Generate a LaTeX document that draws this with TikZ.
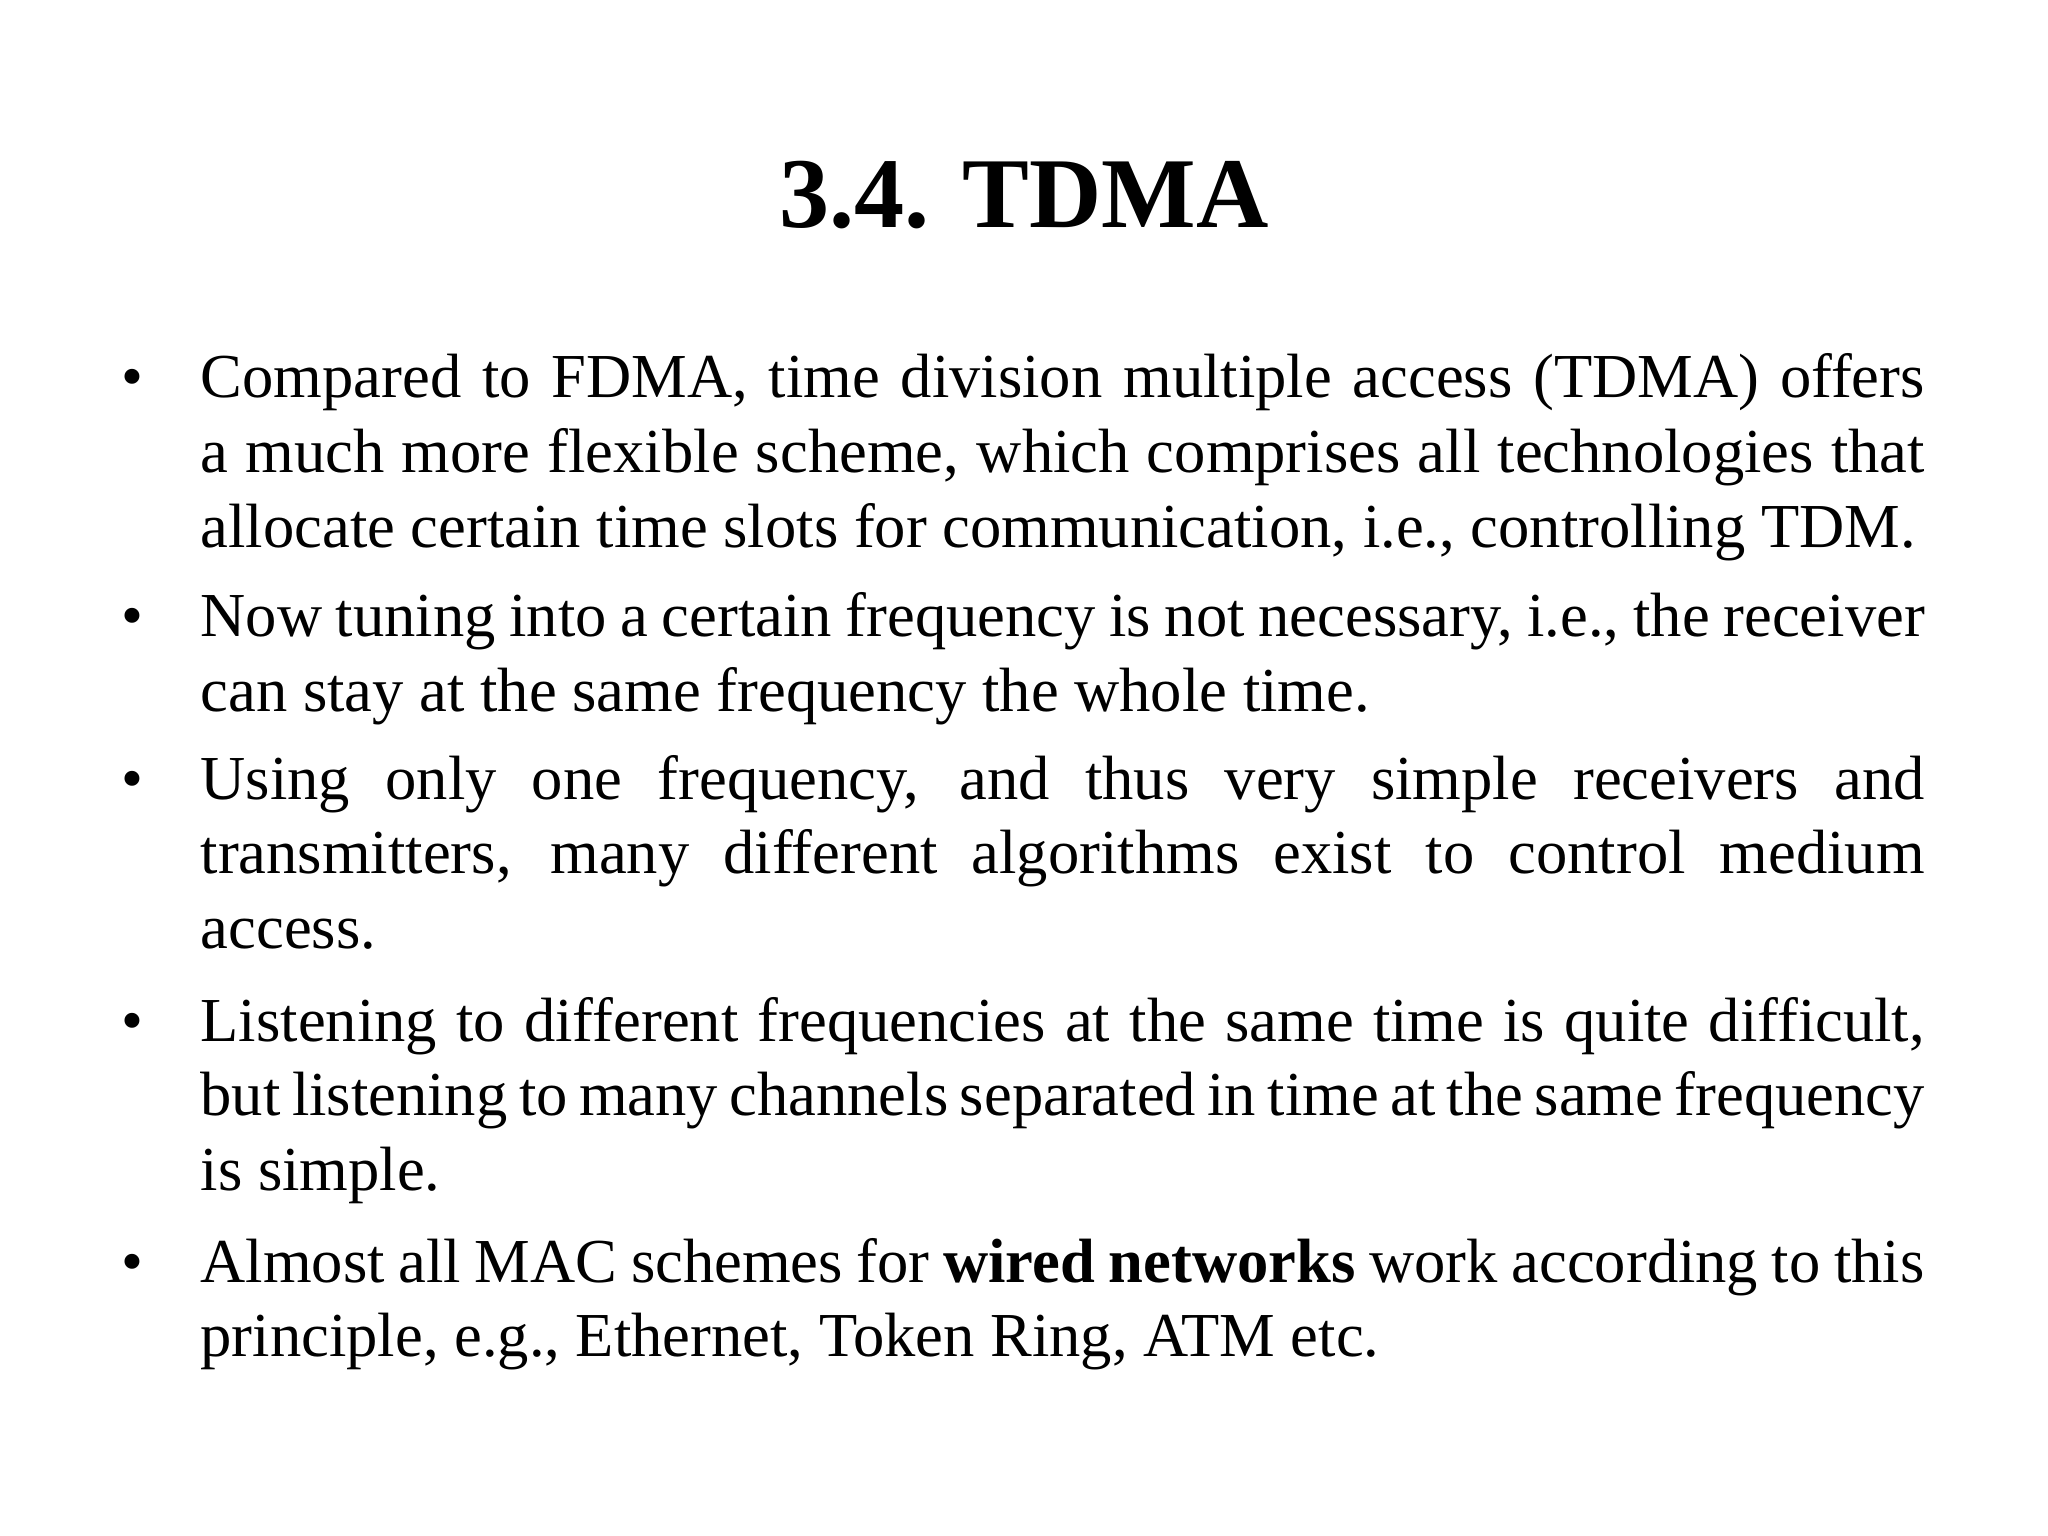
\documentclass[tikz,border=0pt]{standalone}
\usepackage{fontspec}
\setmainfont{Liberation Serif}
\newcommand\nohyphset{\hyphenpenalty=10000\relax\exhyphenpenalty=10000\relax}
\begin{document}
\begin{tikzpicture}[x=1cm,y=1cm,
  bodytext/.style={anchor=base west,inner sep=0pt,text width=17.24cm,align=justify,font=\fontsize{17.8}{21.3}\selectfont\nohyphset},
  bul/.style={anchor=base,inner sep=0pt,font=\fontsize{17.8}{21.3}\selectfont}]
\useasboundingbox (0,0) rectangle (20.48,-15.36);
\node[anchor=base,inner sep=0pt,font=\fontsize{28.5}{34}\selectfont\bfseries] (title) at (10.24,-2.28) {3.4. TDMA};
\node[bodytext] (p1) at (2.0,-3.98) {Compared to FDMA, time division multiple access (TDMA) offers a much more flexible scheme, which comprises all technologies that allocate certain time slots for communication, i.e., controlling TDM.};
\node[bodytext] (p2) at (2.0,-6.37) {Now tuning into a certain frequency is not necessary, i.e., the receiver can stay at the same frequency the whole time.};
\node[bodytext] (p3) at (2.0,-7.99) {Using only one frequency, and thus very simple receivers and transmitters, many different algorithms exist to control medium access.};
\node[bodytext] (p4) at (2.0,-10.41) {Listening to different frequencies at the same time is quite difficult, but listening to many channels separated in time at the same frequency is simple.};
\node[bodytext] (p5) at (2.0,-12.82) {Almost all MAC schemes for \textbf{wired networks} work according to this principle, e.g., Ethernet, Token Ring, ATM etc.};
\foreach \y/\n in {-3.98/b1,-6.37/b2,-7.99/b3,-10.41/b4,-12.82/b5}
  \node[bul] (\n) at (1.32,\y) {•};
\end{tikzpicture}
\end{document}
